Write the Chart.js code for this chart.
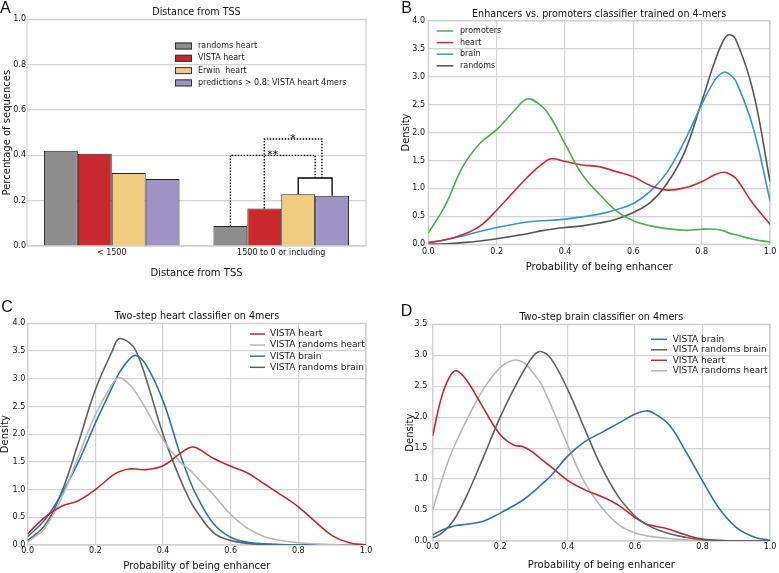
<!DOCTYPE html>
<html>
<head>
<meta charset="utf-8">
<script src="https://cdn.jsdelivr.net/npm/chart.js@4.4.1/dist/chart.umd.min.js"></script>
<style>
  html, body { margin: 0; padding: 0; background: #fff; }
  #fig { position: relative; width: 779px; height: 573px; overflow: hidden; background: #fff; }
  canvas { position: absolute; }
</style>
</head>
<body>
<div id="fig">
  <canvas id="chartA" width="390" height="285" style="left:0;top:0"></canvas>
  <canvas id="chartB" width="389" height="285" style="left:390px;top:0"></canvas>
  <canvas id="chartC" width="390" height="288" style="left:0;top:285px"></canvas>
  <canvas id="chartD" width="389" height="288" style="left:390px;top:285px"></canvas>
</div>
<script>
// ---- A: distance from TSS ----
const tssBins = ['< 1500', '1500 to 0 or including'];
const randomsHeartFrac = [0.42, 0.088];
const vistaHeartFrac = [0.407, 0.165];
const erwinHeartFrac = [0.322, 0.228];
const predHeartFrac = [0.295, 0.222];
// brackets over the 2nd bin; left/right are bar slots (0..3) inside the group
const tssBrackets = [
  { left: 2, right: 3, level: 0.30, label: '' },
  { left: 0, right: 2.5, level: 0.40, rightEnd: 0.30, label: '**', dotted: true },
  { left: 1, right: 2.7, level: 0.472, rightEnd: 0.30, label: '*', dotted: true }
];

// ---- B: enhancers vs promoters ----
const gridB = [0, 0.05, 0.1, 0.15, 0.2, 0.25, 0.29, 0.33, 0.36, 0.4, 0.45, 0.5, 0.55, 0.6, 0.65, 0.7, 0.75, 0.8, 0.84, 0.865, 0.88, 0.9, 0.95, 1];
const promotersB = [0.2, 0.7, 1.38, 1.8, 2.05, 2.38, 2.6, 2.48, 2.25, 1.8, 1.25, 0.9, 0.6, 0.42, 0.33, 0.28, 0.25, 0.27, 0.27, 0.24, 0.2, 0.17, 0.09, 0.04];
const heartB = [0.03, 0.08, 0.17, 0.32, 0.61, 0.94, 1.2, 1.42, 1.53, 1.48, 1.42, 1.39, 1.3, 1.21, 1.05, 0.97, 1.01, 1.12, 1.25, 1.29, 1.26, 1.18, 0.73, 0.36];
const brainB = [0.03, 0.08, 0.15, 0.23, 0.3, 0.36, 0.4, 0.42, 0.43, 0.45, 0.49, 0.54, 0.62, 0.73, 0.95, 1.3, 1.85, 2.5, 2.95, 3.08, 3.05, 2.92, 2.1, 0.78];
const randomsB = [0, 0.01, 0.03, 0.06, 0.1, 0.15, 0.19, 0.24, 0.27, 0.3, 0.33, 0.38, 0.45, 0.57, 0.75, 1.1, 1.65, 2.55, 3.3, 3.66, 3.75, 3.66, 2.75, 1.12];

// ---- C: two-step heart classifier ----
const gridC = [0, 0.05, 0.1, 0.15, 0.2, 0.25, 0.27, 0.3, 0.32, 0.35, 0.4, 0.45, 0.48, 0.5, 0.55, 0.6, 0.65, 0.7, 0.75, 0.8, 0.85, 0.9, 0.95, 1];
const vistaHeartC = [0.2, 0.5, 0.7, 0.8, 1.0, 1.25, 1.32, 1.37, 1.37, 1.36, 1.43, 1.65, 1.76, 1.75, 1.56, 1.42, 1.3, 1.1, 0.9, 0.69, 0.42, 0.17, 0.04, 0];
const randHeartC = [0.05, 0.3, 0.85, 1.6, 2.35, 2.9, 3.02, 2.9, 2.75, 2.45, 1.9, 1.5, 1.35, 1.22, 0.9, 0.55, 0.3, 0.15, 0.08, 0.04, 0.02, 0.01, 0, 0];
const vistaBrainC = [0.15, 0.45, 0.92, 1.5, 2.2, 2.85, 3.1, 3.35, 3.42, 3.25, 2.6, 1.65, 1.15, 0.88, 0.38, 0.14, 0.05, 0.02, 0.01, 0, 0, 0, 0, 0];
const randBrainC = [0.08, 0.35, 0.95, 1.85, 2.8, 3.5, 3.72, 3.65, 3.5, 3.0, 2.0, 1.2, 0.8, 0.6, 0.22, 0.08, 0.03, 0.01, 0, 0, 0, 0, 0, 0];

// ---- D: two-step brain classifier ----
const gridD = [0, 0.025, 0.05, 0.07, 0.1, 0.15, 0.2, 0.24, 0.27, 0.3, 0.32, 0.35, 0.4, 0.45, 0.5, 0.55, 0.6, 0.63, 0.65, 0.7, 0.75, 0.8, 0.85, 0.9, 0.95, 1];
const vistaBrainD = [0.1, 0.17, 0.22, 0.25, 0.27, 0.32, 0.45, 0.57, 0.67, 0.8, 0.9, 1.05, 1.37, 1.6, 1.75, 1.9, 2.05, 2.1, 2.08, 1.88, 1.45, 0.97, 0.52, 0.22, 0.07, 0.01];
const randBrainD = [0.05, 0.12, 0.25, 0.4, 0.72, 1.35, 2.0, 2.45, 2.75, 3.0, 3.06, 2.95, 2.45, 1.82, 1.2, 0.72, 0.4, 0.28, 0.22, 0.12, 0.06, 0.02, 0, 0, 0, 0];
const vistaHeartD = [1.7, 2.3, 2.65, 2.75, 2.6, 2.15, 1.72, 1.55, 1.52, 1.42, 1.33, 1.2, 0.98, 0.83, 0.72, 0.58, 0.38, 0.28, 0.25, 0.19, 0.1, 0.03, 0.01, 0, 0, 0];
const randHeartD = [0.5, 0.95, 1.35, 1.6, 1.95, 2.45, 2.8, 2.92, 2.88, 2.7, 2.55, 2.2, 1.55, 0.95, 0.55, 0.27, 0.13, 0.09, 0.07, 0.04, 0.02, 0.01, 0, 0, 0, 0];

Chart.defaults.font.family = '"DejaVu Sans", sans-serif';
Chart.defaults.color = '#111';
Chart.defaults.animation = false;

const tickFont = { size: 8 };
const axisFont = { size: 10 };
const gridStyle = { color: '#d3d3d3', lineWidth: 1.2, drawTicks: false };

// panel letter + title, placed relative to the plot area
const panelDecor = {
  id: 'panelDecor',
  afterDraw(chart, args, o) {
    const { ctx, chartArea } = chart;
    ctx.save();
    ctx.fillStyle = '#111';
    ctx.textAlign = 'left';
    ctx.textBaseline = 'alphabetic';
    ctx.font = '16px "Liberation Sans", Arial, sans-serif';
    ctx.fillText(o.letter, o.letterX, o.letterY);
    ctx.font = '9.6px "DejaVu Sans", sans-serif';
    ctx.textAlign = 'center';
    ctx.textBaseline = 'middle';
    ctx.fillText(o.title, (chartArea.left + chartArea.right) / 2, chartArea.top - 6.5);
    ctx.restore();
  }
};

const plotFrame = {
  id: 'plotFrame',
  beforeDatasetsDraw(chart) {
    const { ctx, chartArea: a } = chart;
    ctx.save();
    ctx.strokeStyle = '#cfcfcf';
    ctx.lineWidth = 1.2;
    ctx.strokeRect(a.left, a.top, a.right - a.left, a.bottom - a.top);
    ctx.restore();
  }
};

const inlineLegend = {
  id: 'inlineLegend',
  afterDraw(chart, args, o) {
    const { ctx, chartArea } = chart;
    ctx.save();
    ctx.font = o.fontSize + 'px "DejaVu Sans", sans-serif';
    ctx.textAlign = 'left';
    ctx.textBaseline = 'middle';
    chart.data.datasets.forEach((ds, i) => {
      const x = chartArea.left + o.dx;
      const y = chartArea.top + o.dy + i * o.rowGap;
      if (o.box) {
        ctx.fillStyle = ds.backgroundColor;
        ctx.fillRect(x, y - 3.5, o.swatch, 7);
        ctx.strokeStyle = '#333';
        ctx.lineWidth = 1;
        ctx.strokeRect(x + 0.5, y - 3, o.swatch - 1, 6);
      } else {
        ctx.strokeStyle = ds.borderColor;
        ctx.lineWidth = 1.5;
        ctx.beginPath();
        ctx.moveTo(x, y);
        ctx.lineTo(x + o.swatch, y);
        ctx.stroke();
      }
      ctx.fillStyle = '#222';
      ctx.fillText(ds.label, x + o.swatch + o.textGap, y);
    });
    ctx.restore();
  }
};

// significance brackets, positioned from the bar elements and the y scale
const sigBrackets = {
  id: 'sigBrackets',
  afterDatasetsDraw(chart, args, o) {
    const { ctx } = chart;
    const ys = chart.scales.y;
    const g = o.group;
    const barX = pos => {
      const i = Math.floor(pos), f = pos - i;
      const a = chart.getDatasetMeta(i).data[g];
      if (f === 0) return a.x;
      const b = chart.getDatasetMeta(i + 1).data[g];
      return a.x + f * (b.x - a.x);
    };
    const barTop = pos => chart.data.datasets[pos].data[g];
    ctx.save();
    o.list.forEach(b => {
      const x1 = barX(b.left), x2 = barX(b.right);
      const yl = ys.getPixelForValue(b.level);
      const y1 = ys.getPixelForValue(b.leftEnd ?? barTop(b.left));
      const y2 = ys.getPixelForValue(b.rightEnd ?? barTop(b.right));
      ctx.strokeStyle = '#000';
      ctx.lineWidth = 1.3;
      ctx.setLineDash(b.dotted ? [1.5, 1.5] : []);
      ctx.beginPath();
      ctx.moveTo(x1, y1);
      ctx.lineTo(x1, yl);
      ctx.lineTo(x2, yl);
      ctx.lineTo(x2, y2);
      ctx.stroke();
      if (b.label) {
        ctx.setLineDash([]);
        ctx.fillStyle = '#000';
        ctx.font = '11px "DejaVu Sans", sans-serif';
        ctx.textAlign = 'center';
        ctx.textBaseline = 'alphabetic';
        ctx.fillText(b.label, (x1 + x2) / 2, yl + 3);
      }
    });
    ctx.restore();
  }
};

new Chart(document.getElementById('chartA'), {
  type: 'bar',
  data: {
    labels: tssBins,
    datasets: [
      { label: 'randoms heart', data: randomsHeartFrac, backgroundColor: '#8e8e8e' },
      { label: 'VISTA heart', data: vistaHeartFrac, backgroundColor: '#c8282e' },
      { label: 'Erwin  heart', data: erwinHeartFrac, backgroundColor: '#f1cb7f' },
      { label: 'predictions > 0.8: VISTA heart 4mers', data: predHeartFrac, backgroundColor: '#9d93c4' }
    ].map(d => Object.assign(d, { borderColor: '#222', borderWidth: 1, categoryPercentage: 0.8, barPercentage: 1.0 }))
  },
  options: {
    responsive: false,
    layout: { padding: { left: 0, top: 19.3, right: 24, bottom: 0 } },
    scales: {
      x: {
        afterFit: s => { s.height = 39; },
        grid: { display: false, drawTicks: false },
        border: { display: false },
        ticks: { font: tickFont, padding: 2.5, maxRotation: 0 },
        title: { display: true, text: 'Distance from TSS', font: axisFont, padding: { top: 0, bottom: 6 } }
      },
      y: {
        min: 0, max: 1,
        afterFit: s => { s.width = 27; },
        grid: gridStyle,
        border: { display: false },
        ticks: { stepSize: 0.2, font: tickFont, padding: 1, callback: v => v.toFixed(1) },
        title: { display: true, text: 'Percentage of sequences', font: axisFont, padding: { top: 1, bottom: 0 } }
      }
    },
    plugins: {
      legend: { display: false },
      tooltip: { enabled: false },
      panelDecor: { letter: 'A', letterX: 0, letterY: 12.5, title: 'Distance from TSS' },
      inlineLegend: { box: true, dx: 148, dy: 26.7, rowGap: 12.3, swatch: 17, textGap: 6, fontSize: 8 },
      sigBrackets: { group: 1, list: tssBrackets }
    }
  },
  plugins: [plotFrame, sigBrackets, inlineLegend, panelDecor]
});

function pts(xs, ys) {
  return xs.map((x, i) => ({ x: x, y: ys[i] }));
}

function densityChart(id, o) {
  return new Chart(document.getElementById(id), {
    type: 'line',
    data: {
      datasets: o.series.map(s => ({
        label: s.label,
        data: pts(o.grid, s.values),
        borderColor: s.color,
        borderWidth: 1.6,
        pointRadius: 0,
        fill: false,
        tension: 0.4
      }))
    },
    options: {
      responsive: false,
      layout: { padding: { left: 0, top: o.top, right: o.right, bottom: 0 } },
      scales: {
        x: {
          type: 'linear', min: 0, max: 1,
          afterFit: s => { s.height = o.xH; },
          grid: gridStyle,
          border: { display: false },
          ticks: { stepSize: 0.2, font: tickFont, padding: o.xTickPad, maxRotation: 0, callback: v => v.toFixed(1) },
          title: { display: true, text: 'Probability of being enhancer', font: axisFont, padding: { top: 0, bottom: o.xTitlePad } }
        },
        y: {
          min: 0, max: o.yMax,
          afterFit: s => { s.width = o.yW; },
          grid: gridStyle,
          border: { display: false },
          ticks: { stepSize: 0.5, font: tickFont, padding: o.yTickPad, callback: v => v.toFixed(1) },
          title: { display: true, text: 'Density', font: axisFont, padding: { top: o.yTitlePad, bottom: 0 } }
        }
      },
      plugins: {
        legend: { display: false },
        tooltip: { enabled: false },
        panelDecor: o.decor,
        inlineLegend: o.legend
      }
    },
    plugins: [plotFrame, inlineLegend, panelDecor]
  });
}

densityChart('chartB', {
  grid: gridB, yMax: 4, top: 20.7, right: 7.3, yW: 38.3, xH: 40.7,
  xTickPad: 2.6, yTickPad: 3.3, xTitlePad: 12, yTitlePad: 10,
  series: [
    { label: 'promoters', values: promotersB, color: '#4cae4c' },
    { label: 'heart', values: heartB, color: '#cb2a2f' },
    { label: 'brain', values: brainB, color: '#3498d0' },
    { label: 'randoms', values: randomsB, color: '#555555' }
  ],
  decor: { letter: 'B', letterX: 11.2, letterY: 12.7, title: 'Enhancers vs. promoters classifier trained on 4-mers' },
  legend: { dx: 8.4, dy: 10.3, rowGap: 11.6, swatch: 16.6, textGap: 6.7, fontSize: 8 }
});

densityChart('chartC', {
  grid: gridC, yMax: 4, top: 38.3, right: 24, yW: 27.7, xH: 28,
  xTickPad: 0.9, yTickPad: 2.4, xTitlePad: 0.3, yTitlePad: -1,
  series: [
    { label: 'VISTA heart', values: vistaHeartC, color: '#c0272d' },
    { label: 'VISTA randoms heart', values: randHeartC, color: '#b8b8b8' },
    { label: 'VISTA brain', values: vistaBrainC, color: '#2c72b0' },
    { label: 'VISTA randoms brain', values: randBrainC, color: '#606060' }
  ],
  decor: { letter: 'C', letterX: 1.2, letterY: 27.3, title: 'Two-step heart classifier on 4mers' },
  legend: { dx: 222.3, dy: 10.7, rowGap: 11.1, swatch: 15, textGap: 5, fontSize: 9 }
});

densityChart('chartD', {
  grid: gridD, yMax: 3.5, top: 39.3, right: 9, yW: 42.7, xH: 32,
  xTickPad: 0.9, yTickPad: 5.4, xTitlePad: 2, yTitlePad: 14.7,
  series: [
    { label: 'VISTA brain', values: vistaBrainD, color: '#2c72b0' },
    { label: 'VISTA randoms brain', values: randBrainD, color: '#606060' },
    { label: 'VISTA heart', values: vistaHeartD, color: '#c0272d' },
    { label: 'VISTA randoms heart', values: randHeartD, color: '#b8b8b8' }
  ],
  decor: { letter: 'D', letterX: 10.8, letterY: 31, title: 'Two-step brain classifier on 4mers' },
  legend: { dx: 218.3, dy: 15, rowGap: 10.5, swatch: 16, textGap: 5.7, fontSize: 9 }
});
</script>
</body>
</html>
